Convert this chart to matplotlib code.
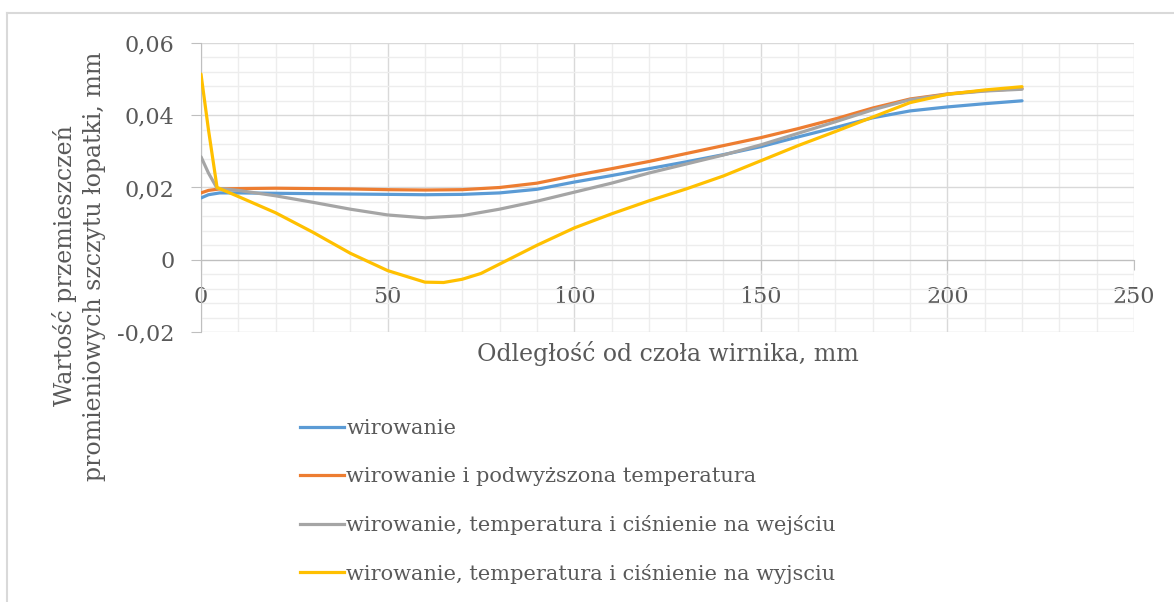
import matplotlib
matplotlib.use("Agg")
import matplotlib.pyplot as plt
from matplotlib.lines import Line2D
from matplotlib.ticker import FuncFormatter, MultipleLocator

plt.rcParams["font.family"] = ["DejaVu Serif"]

# distance from rotor face, mm
x_blue = [0, 2, 5, 10, 20, 30, 40, 50, 60, 70, 80, 90, 100, 110, 120, 130, 140,
          150, 160, 170, 180, 190, 200, 210, 220]
wirowanie = [0.0171, 0.0180, 0.0185, 0.0185, 0.0184, 0.0183, 0.0182, 0.0181, 0.0180,
             0.0181, 0.0185, 0.0195, 0.0215, 0.0233, 0.0252, 0.0271, 0.0291, 0.0313,
             0.0340, 0.0366, 0.0393, 0.0412, 0.0423, 0.0432, 0.0440]
temperatura = [0.0185, 0.0192, 0.0196, 0.0197, 0.0198, 0.0197, 0.0196, 0.0194, 0.0193,
               0.0194, 0.0200, 0.0212, 0.0233, 0.0252, 0.0272, 0.0294, 0.0316, 0.0338,
               0.0363, 0.0390, 0.0420, 0.0445, 0.0459, 0.0468, 0.0474]

x_gray = [0, 2, 4.3, 10, 20, 30, 40, 50, 60, 70, 80, 90, 100, 110, 120, 130, 140,
          150, 160, 170, 180, 190, 200, 210, 220]
wejscie = [0.0285, 0.0240, 0.0198, 0.0192, 0.0177, 0.0159, 0.0140, 0.0124, 0.0116,
           0.0122, 0.0140, 0.0162, 0.0187, 0.0212, 0.0240, 0.0265, 0.0290, 0.0318,
           0.0350, 0.0382, 0.0415, 0.0443, 0.0458, 0.0467, 0.0472]

x_yellow = [0, 2, 4.3, 10, 20, 30, 40, 50, 60, 65, 70, 75, 80, 90, 100, 110, 120,
            130, 140, 150, 160, 170, 180, 190, 200, 210, 220]
wyjscie = [0.0514, 0.0360, 0.0200, 0.0175, 0.0130, 0.0076, 0.0018, -0.0030, -0.0062,
           -0.0063, -0.0054, -0.0038, -0.0012, 0.0040, 0.0088, 0.0127, 0.0163, 0.0196,
           0.0232, 0.0274, 0.0316, 0.0355, 0.0395, 0.0435, 0.0458, 0.0470, 0.0479]

labels = [
    "wirowanie",
    "wirowanie i podwyższona temperatura",
    "wirowanie, temperatura i ciśnienie na wejściu",
    "wirowanie, temperatura i ciśnienie na wyjsciu",
]
colors = ["#5B9BD5", "#ED7D31", "#A5A5A5", "#FFC000"]

TXT = "#595959"

fig = plt.figure(figsize=(11.74, 6.02), dpi=100)
ax = fig.add_axes([201 / 1174, 1 - 332 / 602, 933 / 1174, 289 / 602])

series = [(x_blue, wirowanie), (x_blue, temperatura), (x_gray, wejscie), (x_yellow, wyjscie)]
for (xs, ys), lab, c in zip(series, labels, colors):
    ax.plot(xs, ys, color=c, lw=2.3, label=lab, solid_capstyle="round",
            solid_joinstyle="round", zorder=3)

ax.set_xlim(0, 250)
ax.set_ylim(-0.02, 0.06)
ax.xaxis.set_major_locator(MultipleLocator(50))
ax.xaxis.set_minor_locator(MultipleLocator(10))
ax.yaxis.set_major_locator(MultipleLocator(0.02))
ax.yaxis.set_minor_locator(MultipleLocator(0.004))
ax.grid(which="major", color="#D9D9D9", lw=1.0, zorder=0)
ax.grid(which="minor", color="#EDEDED", lw=1.0, zorder=0)
ax.set_axisbelow(True)

for s in ["top", "right"]:
    ax.spines[s].set_visible(False)
ax.spines["bottom"].set_position(("data", 0))
ax.spines["bottom"].set_color("#BFBFBF")
ax.spines["left"].set_color("#BFBFBF")


def comma(v, pos):
    if abs(v) < 1e-12:
        return "0"
    return f"{v:.2f}".replace(".", ",")


ax.yaxis.set_major_formatter(FuncFormatter(comma))
ax.xaxis.set_major_formatter(FuncFormatter(lambda v, p: f"{v:.0f}"))
ax.tick_params(which="major", axis="both", length=7, color="#BFBFBF",
               labelcolor=TXT, labelsize=16)
ax.tick_params(axis="x", pad=12)
ax.tick_params(axis="y", pad=12)
ax.tick_params(which="minor", length=0)

fig.text(668 / 1174, 1 - 353 / 602, "Odległość od czoła wirnika, mm",
         ha="center", va="center", color=TXT, fontsize=17)
fig.text(79 / 1174, 1 - 266 / 602,
         "Wartość przemieszczeń\npromieniowych szczytu łopatki, mm",
         ha="center", va="center", rotation=90, color=TXT, fontsize=17,
         multialignment="center", linespacing=1.32)

handles = [Line2D([], [], color=c, lw=2.3) for c in colors]
fig.legend(handles, labels, loc="upper left", bbox_to_anchor=(292 / 1174, 1 - 411 / 602),
           frameon=False, fontsize=15, labelcolor=TXT, handlelength=2.1,
           handletextpad=0.1, labelspacing=1.38, borderaxespad=0)

# outer chart border
fig.add_artist(Line2D([7 / 1174, 1], [1 - 13 / 602, 1 - 13 / 602], color="#D9D9D9", lw=1.5))
fig.add_artist(Line2D([7 / 1174, 7 / 1174], [0, 1 - 13 / 602], color="#D9D9D9", lw=1.5))

fig.savefig("out.png", dpi=100)
